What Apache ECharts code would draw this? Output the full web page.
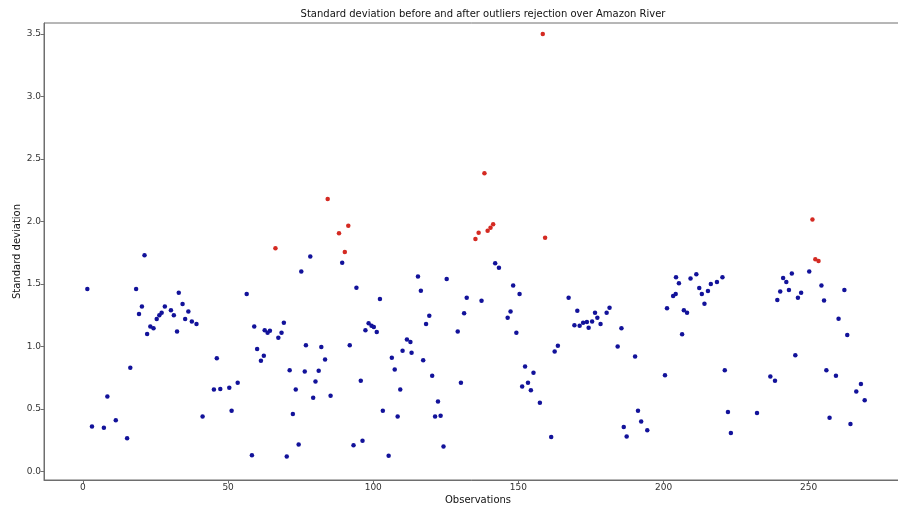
<!DOCTYPE html>
<html>
<head>
<meta charset="utf-8">
<script src="https://cdn.jsdelivr.net/npm/echarts@6/dist/echarts.min.js"></script>
<style>html,body{margin:0;padding:0;background:#fff}#c{width:898px;height:505px}</style>
</head>
<body>
<div id="c"></div>
<script>
// Blue points (after outlier rejection)
var blueObs = [1.5,3.1,7.2,8.4,11.3,15.2,16.3,18.3,19.3,20.3,21.2,22.1,23.2,24.3,25.4,26.3,27.1,28.2,30.3,31.3,32.4,33.0,34.3,35.2,36.3,37.5,39.1,41.2,45.1,46.1,47.3,50.4,51.2,53.3,56.4,58.2,59.0,60.0,61.3,62.3,62.6,63.6,64.4,67.3,68.4,69.2,70.2,71.2,72.3,73.3,74.3,75.2,76.4,76.8,78.3,79.3,80.1,81.2,82.1,83.4,85.3,89.3,91.9,93.2,94.2,95.7,96.3,97.3,98.4,99.4,100.2,101.2,102.3,103.3,105.3,106.4,107.4,108.4,109.3,110.1,111.6,112.8,113.2,115.4,116.4,117.2,118.2,119.3,120.3,121.3,122.3,123.2,124.2,125.3,129.1,130.2,131.3,132.2,137.3,142.0,143.3,146.3,147.3,148.2,149.3,150.4,151.3,152.3,153.3,154.3,155.2,157.4,161.3,162.5,163.6,167.3,169.3,170.3,171.1,172.3,173.6,174.2,175.4,176.4,177.2,178.3,180.4,181.4,184.2,185.5,186.3,187.3,190.2,191.2,192.3,194.4,200.5,201.2,203.3,204.2,204.3,205.3,206.4,207.0,208.1,209.3,211.3,212.3,213.2,214.1,215.3,216.3,218.4,220.3,221.1,222.2,223.2,232.2,236.8,238.4,239.2,240.2,241.2,242.3,243.2,244.2,245.4,246.3,247.4,250.2,254.4,255.3,256.1,257.2,259.4,260.3,262.3,263.3,264.4,266.4,268.0,269.3];
var blueStd = [1.46,0.36,0.35,0.60,0.41,0.265,0.83,1.46,1.26,1.32,1.73,1.10,1.16,1.145,1.22,1.25,1.27,1.32,1.29,1.25,1.12,1.43,1.34,1.22,1.28,1.20,1.18,0.44,0.655,0.905,0.66,0.67,0.485,0.71,1.42,0.13,1.16,0.98,0.885,0.925,1.13,1.11,1.125,1.07,1.11,1.19,0.12,0.81,0.46,0.655,0.215,1.60,0.80,1.01,1.72,0.59,0.72,0.805,0.995,0.895,0.605,1.67,1.01,0.21,1.47,0.725,0.245,1.13,1.185,1.165,1.155,1.115,1.38,0.485,0.125,0.91,0.815,0.44,0.655,0.965,1.055,1.035,0.95,1.56,1.445,0.89,1.18,1.245,0.765,0.44,0.56,0.445,0.20,1.54,1.12,0.71,1.265,1.39,1.365,1.665,1.63,1.23,1.28,1.487,1.11,1.42,0.68,0.84,0.71,0.65,0.79,0.55,0.275,0.96,1.005,1.39,1.17,1.285,1.165,1.19,1.195,1.15,1.20,1.27,1.23,1.18,1.27,1.31,1.00,1.145,0.355,0.28,0.92,0.485,0.40,0.33,0.77,1.305,1.404,1.42,1.553,1.505,1.097,1.29,1.27,1.543,1.577,1.468,1.42,1.342,1.444,1.50,1.516,1.553,0.81,0.475,0.307,0.467,0.76,0.726,1.372,1.439,1.548,1.516,1.452,1.583,0.93,1.39,1.43,1.60,1.487,1.367,0.81,0.43,0.765,1.222,1.452,1.091,0.38,0.64,0.70,0.57];
// Red points (outliers)
var redObs = [66.3,84.3,88.2,90.2,91.4,135.2,136.3,138.3,139.4,140.4,141.3,158.4,159.2,251.3,252.3,253.4];
var redStd = [1.785,2.18,1.905,1.755,1.965,1.86,1.91,2.386,1.925,1.95,1.978,3.50,1.87,2.015,1.697,1.684];
// Tick values
var xTicks = [0,50,100,150,200,250];
var yTicks = [0,0.5,1.0,1.5,2.0,2.5,3.0,3.5];

function zip(a,b){var r=[];for(var i=0;i<a.length;i++)r.push([a[i],b[i]]);return r;}

var chart = echarts.init(document.getElementById('c'), null, {renderer:'canvas'});
var font = 'DejaVu Sans';
var spine = '#6e6e6e';
chart.setOption({
  animation:false,
  backgroundColor:'#fff',
  title:{text:'Standard deviation before and after outliers rejection over Amazon River',
    left:478, top:4, textAlign:'center',
    textStyle:{fontFamily:font,fontSize:10,fontWeight:'normal',color:'#111'}},
  grid:{left:44,top:23,right:-14,bottom:25,show:true,borderColor:spine,borderWidth:1,
    backgroundColor:'#fff',containLabel:false,outerBoundsMode:'none'},
  xAxis:{type:'value',min:-13.43,max:285.6,
    name:'Observations',nameLocation:'middle',nameGap:15,nameMoveOverlap:false,
    nameTextStyle:{fontFamily:font,fontSize:10,color:'#111'},
    axisLine:{show:true,onZero:false,lineStyle:{color:spine,width:1}},
    splitLine:{show:false},
    axisTick:{show:true,length:3.5,lineStyle:{color:spine},customValues:xTicks},
    axisLabel:{fontFamily:font,fontSize:9,color:'#333',margin:3,customValues:xTicks,
      formatter:function(v){return String(v);}}},
  yAxis:{type:'value',min:-0.069,max:3.588,
    name:'Standard deviation',nameLocation:'middle',nameGap:22,nameMoveOverlap:false,
    nameTextStyle:{fontFamily:font,fontSize:10,color:'#111'},
    axisLine:{show:true,onZero:false,lineStyle:{color:spine,width:1}},
    splitLine:{show:false},
    axisTick:{show:true,length:3.5,lineStyle:{color:spine},customValues:yTicks},
    axisLabel:{fontFamily:font,fontSize:9,color:'#333',margin:3,customValues:yTicks,
      formatter:function(v){return v.toFixed(1);}}},
  series:[
    {type:'scatter',name:'after',data:zip(blueObs,blueStd),symbolSize:4.5,
      itemStyle:{color:'#12129a',opacity:1}},
    {type:'scatter',name:'outliers',data:zip(redObs,redStd),symbolSize:4.5,
      itemStyle:{color:'#d42a22',opacity:1}}
  ]
});
</script>
</body>
</html>
